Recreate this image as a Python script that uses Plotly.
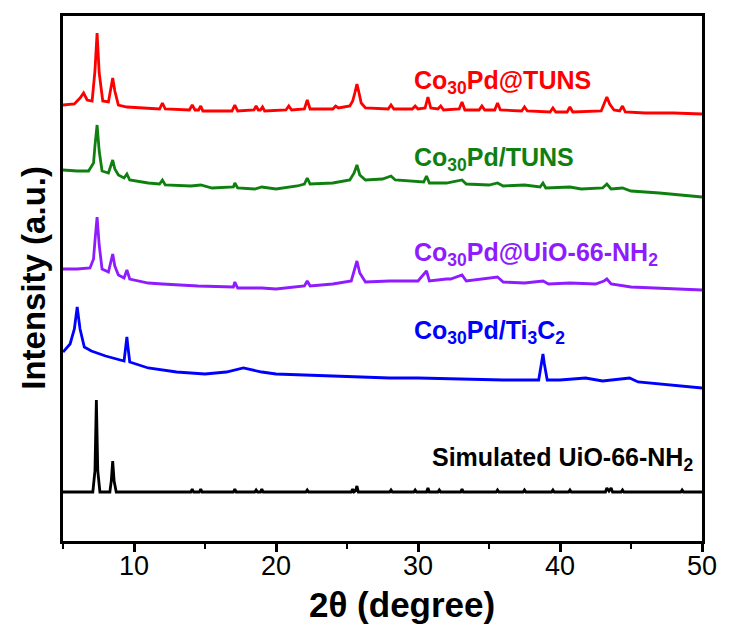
import plotly.graph_objects as go

# ---- data (2theta in degrees, intensity in arbitrary offset units) ----
red_x = [5.0, 5.8, 6.2, 6.45, 6.7, 7.05, 7.25, 7.4, 7.55, 7.8, 8.2, 8.35, 8.5, 8.65, 8.9, 9.5, 10.5, 11.8, 12.0, 12.2,
         13.9, 14.1, 14.3, 14.55, 14.7, 14.85, 16.9, 17.1, 17.3, 18.45, 18.6, 18.75, 18.9, 19.05, 19.2, 20.7, 20.9, 21.1,
         22.0, 22.2, 22.4, 24.0, 24.2, 24.4, 25.2, 25.4, 25.55, 25.7, 25.85, 26.0, 26.3, 27.9, 28.1, 28.3, 29.6, 29.8,
         30.0, 30.5, 30.7, 30.9, 31.4, 31.6, 31.8, 32.9, 33.1, 33.3, 34.3, 34.5, 34.7, 35.4, 35.6, 35.8, 37.3, 37.5,
         37.7, 39.3, 39.5, 39.7, 40.5, 40.7, 40.9, 42.9, 43.1, 43.3, 43.5, 43.8, 44.2, 44.4, 44.6, 46.0, 48.0, 50.0]
red_y = [436, 437, 443, 448, 441, 440, 470, 508, 468, 440, 439, 450, 463, 450, 436, 434, 433, 432, 438, 432,
         431, 436, 431, 431, 435, 430, 430, 436, 430, 431, 435, 431, 431, 434, 430, 431, 435, 431,
         432, 441, 432, 432, 435, 433, 435, 440, 448, 457, 448, 438, 433, 432, 436, 432, 432, 435,
         432, 433, 444, 433, 432, 435, 431, 432, 439, 431, 431, 435, 431, 431, 438, 431, 430, 434,
         430, 429, 433, 429, 429, 434, 429, 430, 437, 444, 437, 431, 430, 435, 429, 428, 428, 427]

green_x = [5.0, 6.0, 6.8, 7.15, 7.25, 7.4, 7.55, 7.75, 8.2, 8.35, 8.5, 8.65, 8.9, 9.3, 9.5, 9.7, 11.0, 11.8, 12.0, 12.2,
           14.0, 14.7, 15.5, 17.0, 17.1, 17.3, 18.5, 19.0, 20.0, 21.5, 22.0, 22.2, 22.4, 24.0, 25.2, 25.5, 25.7, 25.9,
           26.3, 27.5, 28.1, 28.4, 29.8, 30.4, 30.6, 30.8, 32.0, 33.1, 33.4, 35.0, 35.6, 36.0, 37.5, 38.6, 38.8, 39.0,
           40.7, 41.5, 43.0, 43.3, 43.6, 44.4, 45.0, 47.0, 50.0]
green_y = [371, 370, 370, 378, 395, 416, 390, 370, 368, 375, 381, 372, 366, 363, 367, 361, 358, 357, 361, 356,
           355, 356, 353, 354, 358, 353, 352, 354, 352, 355, 357, 363, 357, 358, 361, 368, 376, 366,
           361, 362, 365, 361, 360, 359, 365, 358, 358, 361, 357, 356, 358, 355, 356, 354, 358, 353,
           354, 352, 353, 357, 352, 353, 350, 348, 344]

purple_x = [5.0, 6.0, 6.9, 7.15, 7.25, 7.4, 7.55, 7.75, 8.2, 8.35, 8.5, 8.65, 8.9, 9.3, 9.5, 9.7, 11.0, 12.0, 14.5,
            17.0, 17.1, 17.3, 19.0, 20.0, 22.0, 22.2, 22.4, 24.0, 25.3, 25.5, 25.7, 25.9, 26.3, 28.0, 30.0, 30.6,
            30.8, 32.0, 32.3, 33.1, 33.4, 35.6, 36.0, 37.5, 38.8, 39.2, 40.7, 42.5, 43.1, 43.3, 43.6, 45.0, 47.0, 50.0]
purple_y = [272, 272, 273, 282, 300, 324, 296, 272, 269, 278, 287, 275, 266, 263, 271, 262, 258, 257, 255,
            254, 259, 253, 253, 252, 255, 260, 255, 257, 260, 270, 280, 268, 259, 260, 260, 270,
            260, 262, 262, 266, 260, 264, 259, 258, 260, 257, 258, 257, 260, 262, 257, 254, 253, 251]

blue_x = [5.0, 5.5, 5.8, 6.0, 6.2, 6.5, 7.0, 8.0, 9.3, 9.45, 9.5, 9.55, 9.7, 11.0, 13.0, 15.0, 16.5, 17.7, 19.0, 20.0,
          22.0, 25.0, 28.0, 30.0, 33.0, 36.0, 38.5, 38.7, 38.8, 38.9, 39.1, 40.0, 41.8, 43.0, 44.9, 45.5, 47.5, 50.0]
blue_y = [189, 197, 212, 234, 212, 194, 190, 185, 180, 197, 204, 197, 179, 173, 169, 167, 169, 173, 169, 167,
          166, 165, 163, 163, 162, 161, 161, 177, 187, 177, 161, 161, 163, 160, 163, 159, 156, 153]

black_x = [5.0, 7.1, 7.25, 7.35, 7.45, 7.6, 8.3, 8.4, 8.5, 8.6, 8.75, 14.0, 14.1, 14.2, 14.6, 14.7, 14.8, 17.0, 17.1,
           17.2, 18.5, 18.6, 18.7, 18.9, 19.0, 19.1, 22.1, 22.2, 22.3, 25.3, 25.4, 25.5, 25.6, 25.7, 25.8, 28.0, 28.1,
           28.2, 29.7, 29.8, 29.9, 30.6, 30.7, 30.8, 31.4, 31.5, 31.6, 33.0, 33.1, 33.2, 35.5, 35.6, 35.7, 37.4, 37.5,
           37.6, 39.4, 39.5, 39.6, 40.6, 40.7, 40.8, 43.2, 43.3, 43.45, 43.6, 43.7, 44.3, 44.4, 44.5, 48.5, 48.6, 48.7, 50.0]
black_y = [49, 49, 70, 141, 70, 49, 49, 60, 80, 60, 49, 49, 52, 49, 49, 52, 49, 49, 52,
           49, 49, 51, 49, 49, 52, 49, 49, 51, 49, 49, 52, 49, 50, 55, 49, 49, 51,
           49, 49, 51, 49, 49, 53, 49, 49, 51, 49, 49, 52, 49, 49, 51, 49, 49, 51,
           49, 49, 51, 49, 49, 51, 49, 49, 53, 50, 53, 49, 49, 51, 49, 49, 51, 49, 49]

series = [
    ("Co30Pd@TUNS", red_x, red_y, "#FF0000"),
    ("Co30Pd/TUNS", green_x, green_y, "#0F8010"),
    ("Co30Pd@UiO-66-NH2", purple_x, purple_y, "#8F1CFF"),
    ("Co30Pd/Ti3C2", blue_x, blue_y, "#0000FF"),
    ("Simulated UiO-66-NH2", black_x, black_y, "#000000"),
]

labels = [
    ("Co<sub>30</sub>Pd@TUNS", 29.6, 459, "#FF0000", "left"),
    ("Co<sub>30</sub>Pd/TUNS", 29.6, 382, "#0F8010", "left"),
    ("Co<sub>30</sub>Pd@UiO-66-NH<sub>2</sub>", 29.6, 287, "#8F1CFF", "left"),
    ("Co<sub>30</sub>Pd/Ti<sub>3</sub>C<sub>2</sub>", 29.6, 209, "#0000FF", "left"),
    ("Simulated UiO-66-NH<sub>2</sub>", 49.5, 82, "#000000", "right"),
]

FONT = "Liberation Sans, Arial, sans-serif"

fig = go.Figure()
for name, xs, ys, col in series:
    fig.add_trace(go.Scatter(x=xs, y=ys, mode="lines", name=name,
                             line=dict(color=col, width=2.8), showlegend=False))

for txt, x, y, col, anchor in labels:
    fig.add_annotation(x=x, y=y, xref="x", yref="y", text="<b>" + txt + "</b>",
                       showarrow=False, xanchor=anchor, yanchor="middle",
                       font=dict(family=FONT, size=25, color=col))

fig.add_annotation(x=-0.0465, y=0.502, xref="paper", yref="paper", text="<b>Intensity (a.u.)</b>",
                   textangle=-90, showarrow=False, xanchor="center", yanchor="middle",
                   font=dict(family=FONT, size=33, color="black"))
fig.add_annotation(x=0.53, y=-0.121, xref="paper", yref="paper", text="<b>2θ (degree)</b>",
                   showarrow=False, xanchor="center", yanchor="middle",
                   font=dict(family=FONT, size=35, color="black"))

fig.update_layout(
    width=729, height=626,
    margin=dict(l=63, r=21, t=16, b=85),
    plot_bgcolor="white", paper_bgcolor="white",
    font=dict(family=FONT, color="black"),
)
fig.update_xaxes(range=[5, 50], tick0=0, dtick=10, ticks="outside", ticklen=8, tickwidth=2.5,
                 tickcolor="black", showline=True, linecolor="black", linewidth=2.8, mirror=True,
                 showgrid=False, zeroline=False, ticklabelstandoff=-9,
                 tickfont=dict(family=FONT, size=27, color="black"),
                 minor=dict(dtick=5, tick0=0, ticks="outside", ticklen=5, tickwidth=2, tickcolor="black"))
fig.update_yaxes(range=[0, 525], showticklabels=False, ticks="", showline=True, linecolor="black",
                 linewidth=2.8, mirror=True, showgrid=False, zeroline=False)

fig.write_html("out.html")
